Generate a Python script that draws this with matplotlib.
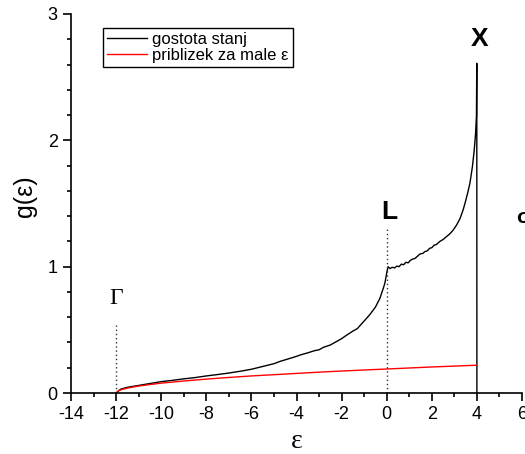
import matplotlib.pyplot as plt
import numpy as np

# gostota stanj (histogram)
eps_dos = [-12.0, -11.8, -11.5, -11.0, -10.5, -10.0, -9.5, -9.0, -8.5, -8.0,
           -7.5, -7.0, -6.5, -6.0, -5.5, -5.0, -4.7, -4.4, -4.0, -3.85,
           -3.5, -3.2, -3.0, -2.8, -2.5, -2.3, -2.0, -1.8, -1.5, -1.3,
           -1.0, -0.75, -0.5, -0.3, -0.15, -0.08, 0.0, 0.06, 0.15, 0.25,
           0.35, 0.45, 0.55, 0.65, 0.75, 0.85, 0.95, 1.05, 1.15, 1.25,
           1.35, 1.47, 1.6, 1.7, 1.8, 1.9, 2.0, 2.1, 2.2, 2.36,
           2.5, 2.6, 2.7, 2.8, 2.95, 3.1, 3.25, 3.39, 3.5, 3.6,
           3.69, 3.8, 3.88, 3.94, 3.98, 3.995, 4.0]
g_dos = [0.0, 0.03, 0.045, 0.06, 0.075, 0.09, 0.1, 0.112, 0.122, 0.135,
         0.146, 0.158, 0.172, 0.188, 0.21, 0.232, 0.252, 0.268, 0.29, 0.30,
         0.318, 0.335, 0.342, 0.362, 0.38, 0.40, 0.43, 0.455, 0.49, 0.51,
         0.57, 0.62, 0.68, 0.75, 0.83, 0.87, 0.95, 1.0, 0.985, 0.995,
         0.99, 1.005, 1.0, 1.02, 1.015, 1.035, 1.03, 1.05, 1.06, 1.065,
         1.08, 1.1, 1.105, 1.12, 1.125, 1.145, 1.15, 1.17, 1.175, 1.20,
         1.215, 1.23, 1.245, 1.26, 1.29, 1.33, 1.38, 1.45, 1.52, 1.59,
         1.66, 1.79, 1.92, 2.05, 2.19, 2.61, 0.0]

# priblizek za male eps
eps_apx = [-12.0, -11.9, -11.75, -11.5, -11.0, -10.5, -10.0, -9.0, -8.0, -7.0,
           -6.0, -5.0, -4.0, -3.0, -2.0, -1.0, 0.0, 1.0, 2.0, 3.0, 4.0]
g_apx = [0.0, 0.017, 0.028, 0.039, 0.055, 0.067, 0.078, 0.095, 0.11, 0.123,
         0.135, 0.145, 0.155, 0.165, 0.174, 0.182, 0.19, 0.198, 0.206, 0.213, 0.22]

# oznake tock
pt_names = ['$\\Gamma$', 'L', 'X']
pt_eps = [-12, 0, 4]
pt_lab_y = [0.75, 1.43, 2.8]
pt_line_top = [0.54, 1.31, None]

plt.rcParams['font.family'] = ['Liberation Sans', 'DejaVu Sans']
plt.rcParams['mathtext.fontset'] = 'custom'
plt.rcParams['mathtext.rm'] = 'Liberation Serif'
plt.rcParams['mathtext.it'] = 'Liberation Serif'
plt.rcParams['axes.unicode_minus'] = False

fig = plt.figure(figsize=(5.25, 4.54), dpi=100)
ax = fig.add_axes([71/525, 61/454, 451/525, 379/454])

ax.plot(eps_dos, g_dos, color='black', lw=1.0, label='gostota stanj')
ax.plot(eps_apx, g_apx, color='red', lw=1.0, label='priblizek za male ε')

for name, e, yl, top in zip(pt_names, pt_eps, pt_lab_y, pt_line_top):
    if top is not None:
        ax.plot([e, e], [0, top], color='#333333', lw=1.0, ls=(0, (1, 2)))
    if name == '$\\Gamma$':
        ax.text(e, yl, name, ha='center', va='center', fontsize=17)
    else:
        ax.text(e + 0.1, yl, name, ha='center', va='center', fontsize=19,
                fontweight='bold')

ax.set_xlim(-14, 6)
ax.set_ylim(0, 3)
ax.set_xticks(np.arange(-14, 7, 2))
ax.set_xticks(np.arange(-14, 7, 1), minor=True)
ax.set_yticks([0, 1, 2, 3])
ax.set_yticks(np.arange(0, 3.01, 0.2), minor=True)
ax.tick_params(which='major', length=6, width=1.2, labelsize=13, direction='out')
ax.tick_params(which='minor', length=3, width=1.2, direction='out')
for s in ['top', 'right']:
    ax.spines[s].set_visible(False)
for s in ['left', 'bottom']:
    ax.spines[s].set_linewidth(1.2)

ax.set_xlabel('ε', fontsize=20, family='Liberation Serif')
ax.xaxis.set_label_coords(0.5, -0.095)
ax.set_ylabel('g(ε)', fontsize=18)
ax.yaxis.set_label_coords(-0.075, 0.52)

leg = ax.legend(loc='upper left', bbox_to_anchor=(103/525, 1 - 28/454),
                bbox_transform=fig.transFigure, borderaxespad=0, fontsize=12,
                fancybox=False, framealpha=1, edgecolor='black',
                handlelength=2.4, handletextpad=0.3, borderpad=0.25,
                labelspacing=0.05)
leg.get_frame().set_linewidth(1.0)

fig.text(516/525, 1 - 217/454, 'σ', fontsize=15, fontweight='bold',
         ha='left', va='center')

fig.savefig('out.png', dpi=100)
